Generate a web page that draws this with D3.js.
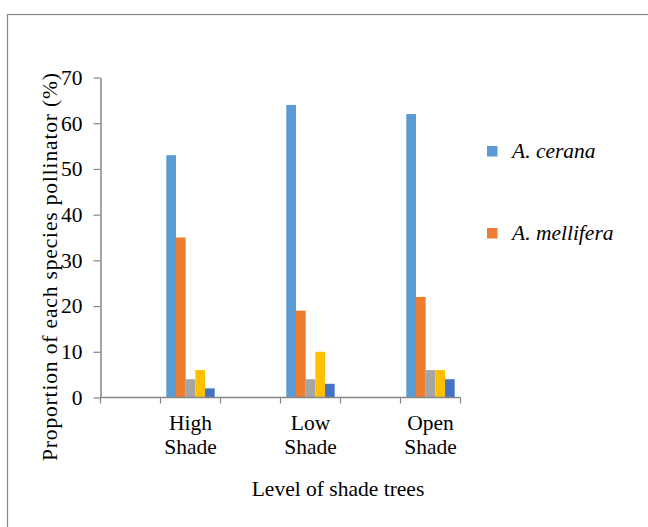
<!DOCTYPE html>
<html lang="en">
<head>
<meta charset="utf-8" />
<title>Proportion of pollinator species by shade level</title>
<script src="https://cdn.jsdelivr.net/npm/d3@7"></script>
<style>
  html, body { margin: 0; background: #fff; }
  svg { display: block; }
  svg text { font-family: "Liberation Serif", "Times New Roman", serif; fill: #000; }
</style>
</head>
<body>
<script>
// x slots as in the original sheet: blank columns sit between the shade levels
const categories = ["", "High Shade", "", "Low Shade", "", "Open Shade"];
const seriesNames = ["A. cerana", "A. mellifera", "Series 3", "Series 4", "Series 5"];
const cerana    = [null, 53, null, 64, null, 62];
const mellifera = [null, 35, null, 19, null, 22];
const series3   = [null, 4,  null, 4,  null, 6];
const series4   = [null, 6,  null, 10, null, 6];
const series5   = [null, 2,  null, 3,  null, 4];
const yTicks = [0, 10, 20, 30, 40, 50, 60, 70];
const legendShown = ["A. cerana", "A. mellifera"];

const W = 648, H = 527;
const colors = ["#5b9bd5", "#ed7d31", "#a5a5a5", "#ffc000", "#4472c4"];
const axisGrey = "#868686";
const fontSize = 21.5;

const svg = d3.select("body").append("svg")
    .attr("width", W).attr("height", H)
    .attr("font-family", "Liberation Serif");

// chart frame (only left and top edges fall inside the picture)
svg.append("rect")
    .attr("x", 7.5).attr("y", 14.5)
    .attr("width", 700).attr("height", 600)
    .attr("fill", "none").attr("stroke", axisGrey).attr("stroke-width", 1.2);

const plot = { left: 100.5, right: 460.5, top: 77.5, bottom: 397.5 };

const x = d3.scaleBand()
    .domain(d3.range(categories.length))
    .range([plot.left, plot.right]);

const seriesData = [cerana, mellifera, series3, series4, series5];

const x1 = d3.scaleBand()
    .domain(d3.range(seriesData.length))
    .range([0, x.bandwidth()])
    .paddingOuter(0.6);

const y = d3.scaleLinear().domain([0, 70]).range([plot.bottom, plot.top]);

// bars
seriesData.forEach((vals, s) => {
  svg.append("g")
    .selectAll("rect")
    .data(vals.map((v, i) => ({ v, i })).filter(d => d.v != null))
    .join("rect")
      .attr("x", d => x(d.i) + x1(s))
      .attr("width", x1.bandwidth())
      .attr("y", d => y(d.v))
      .attr("height", d => y(0) - y(d.v))
      .attr("fill", colors[s]);
});

// y axis
const yAxis = svg.append("g")
    .attr("transform", `translate(${plot.left},0)`)
    .call(d3.axisLeft(y).tickValues(yTicks).tickSizeOuter(0).tickSizeInner(7).tickPadding(11));
yAxis.attr("font-family", null).attr("font-size", null);
yAxis.select(".domain").attr("stroke", axisGrey).attr("stroke-width", 1.5);
yAxis.selectAll(".tick line").attr("stroke", axisGrey).attr("stroke-width", 1.2);
yAxis.selectAll(".tick text")
    .attr("font-size", fontSize).attr("fill", "#000");

// x axis: line plus ticks on every slot boundary
const xAxis = svg.append("g");
xAxis.append("line")
    .attr("x1", plot.left).attr("x2", plot.right)
    .attr("y1", plot.bottom).attr("y2", plot.bottom)
    .attr("stroke", axisGrey).attr("stroke-width", 1.5);
const bounds = d3.range(categories.length + 1).map(i => i < categories.length ? x(i) : plot.right);
xAxis.selectAll(".xt")
    .data(bounds)
    .join("line")
      .attr("x1", d => d).attr("x2", d => d)
      .attr("y1", plot.bottom).attr("y2", plot.bottom + 6)
      .attr("stroke", axisGrey).attr("stroke-width", 1.2);

xAxis.selectAll(".xl")
    .data(categories.map((c, i) => ({ c, i })).filter(d => d.c))
    .join("text")
      .attr("text-anchor", "middle")
      .attr("font-size", fontSize)
      .each(function(d) {
        const t = d3.select(this);
        d.c.split(" ").forEach((word, k) => {
          t.append("tspan")
            .attr("x", x(d.i) + x.bandwidth() / 2)
            .attr("y", 430 + k * 23.5)
            .text(word);
        });
      });

// axis titles
svg.append("text")
    .attr("x", 338).attr("y", 496)
    .attr("text-anchor", "middle")
    .attr("font-size", fontSize)
    .text("Level of shade trees");

svg.append("text")
    .attr("transform", "translate(57,267) rotate(-90)")
    .attr("text-anchor", "middle")
    .attr("font-size", fontSize)
    .attr("textLength", 388)
    .attr("lengthAdjust", "spacing")
    .text("Proportion of each species pollinator (%)");

// legend (only the two honey bee species are listed)
const legend = svg.append("g");
legendShown.forEach((name, k) => {
  const s = seriesNames.indexOf(name);
  const ly = 146 + k * 82;
  legend.append("rect")
    .attr("x", 487).attr("y", ly)
    .attr("width", 10.5).attr("height", 10.5)
    .attr("fill", colors[s]);
  legend.append("text")
    .attr("x", 512).attr("y", ly + 11.5)
    .attr("font-size", fontSize)
    .attr("font-style", "italic")
    .text(name);
});
</script>
</body>
</html>
